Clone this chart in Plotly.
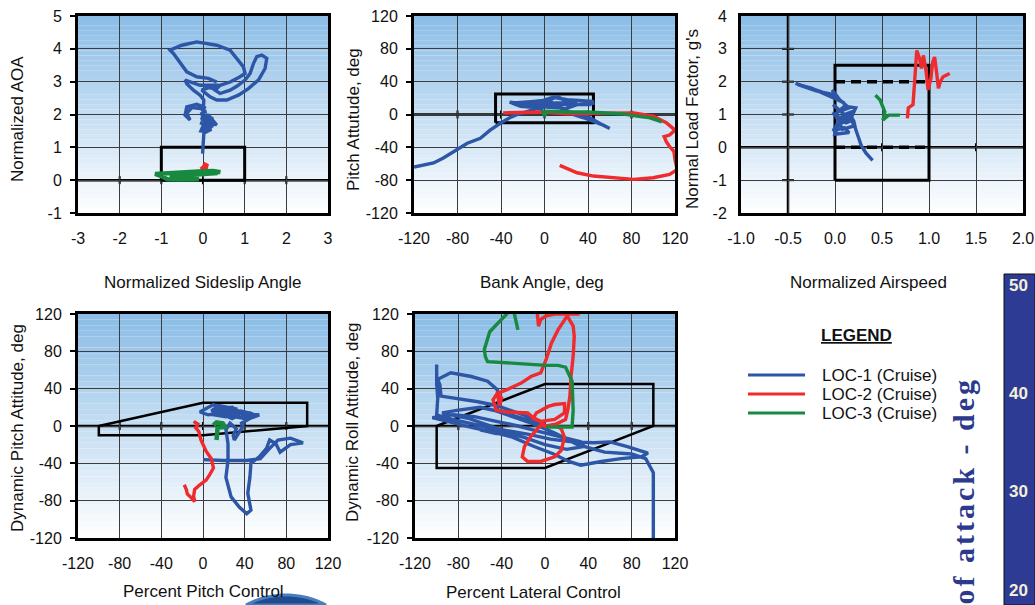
import math
import plotly.graph_objects as go

W, H = 1035, 605
FONT = "Liberation Sans, Arial, sans-serif"
BLUE, RED, GREEN = "#2D56A6", "#EF2B2D", "#178A3F"
GRID = "#3c3c3c"

# ---------------- Panel 1: Normalized AOA vs Normalized Sideslip ----------------
aoa_loc1 = [(-0.01,0.81),(0.01,1.22),(0.02,1.42),(0.05,1.45),(0.2,1.55),(0.0,1.6),(0.3,1.72),
            (0.1,1.78),(0.25,1.88),(-0.05,1.85),(0.12,2.0),(-0.05,1.5),(0.1,1.47),(-0.03,1.57),
            (0.13,1.64),(-0.07,1.75),(0.25,1.64),(0.07,1.83),(0.2,1.75),(0.33,1.68),(0.15,1.95),
            (0.05,1.7),(-0.03,2.03),(0.08,2.1),(-0.02,2.1),(0.05,2.25),(-0.07,2.18),(-0.27,2.21),
            (-0.39,2.03),(-0.31,1.83),(-0.43,1.98),(-0.39,2.23),(-0.15,2.31),(0.01,2.23),(0.02,2.44),
            (-0.07,2.59),(-0.23,2.74),(-0.39,2.94),(-0.43,3.05),(-0.27,2.99),(-0.07,2.89),(0.17,2.89),
            (0.37,2.89),(0.25,2.79),(0.13,2.82),(-0.03,2.74),(0.17,2.54),(0.33,2.44),(0.57,2.44),
            (0.85,2.59),(1.09,2.79),(1.33,3.05),(1.49,3.40),(1.53,3.71),(1.41,3.81),(1.29,3.76),
            (1.21,3.55),(1.13,3.25),(1.01,3.05),(0.81,2.86),(0.65,2.74),(0.41,2.64),(0.29,2.74),
            (0.41,2.89),(0.65,2.99),(0.89,3.15),(1.01,3.25),(0.97,3.45),(0.81,3.71),(0.65,3.96),
            (0.33,4.11),(-0.15,4.21),(-0.51,4.11),(-0.79,3.96),(-0.71,3.86),(-0.55,3.60),
            (-0.39,3.30),(-0.15,3.15),(0.13,3.10),(0.33,2.99)]
aoa_loc2 = [(0.0,0.5),(0.08,0.45),(0.05,0.3),(-0.05,0.22),(0.1,0.2),(0.02,0.35),(-0.04,0.42)]
aoa_loc3 = [(0.42,0.24),(0.25,0.28),(0.0,0.27),(-0.4,0.24),(-0.8,0.2),(-1.15,0.19),(-1.0,0.12),
            (-0.85,0.03),(-0.5,0.02),(-0.1,0.03),(-0.4,0.1),(-0.8,0.14),(-0.3,0.16),(0.1,0.2),(0.35,0.22)]
aoa_env_x = [-1, -1, 1, 1, -1]
aoa_env_y = [0, 1, 1, 0, 0]

# ---------------- Panel 2: Pitch Attitude vs Bank Angle ----------------
pitch_loc1 = [(-120,-64),(-102,-59),(-93,-53),(-81,-43),(-71,-35),(-59,-29),(-50,-19),(-41,-11),
              (-32,-4),(-25,0),(-15,4),(-5,8),(-22,10),(-32,15),(-16,13),(-4,16),(8,21),(21,18),
              (45,16),(42,12),(14,12),(2,10),(-10,8),(-1,6),(-28,14),(-10,16),(5,18),(12,22),
              (20,16),(30,14),(10,14),(-5,12),(-20,12),(0,10),(15,8),(-8,10),(5,16),(21,4),
              (39,-2),(51,-11),(60,-17),(54,-13),(36,-4),(15,5),(30,12),(46,14)]
pitch_loc2 = [(-38,2),(-20,2),(0,3),(20,1),(45,1),(66,1),(82,2),(100,-2),(112,-10),(120,-19),
              (115,-25),(110,-27),(112,-33),(115,-39),(119,-45),(120,-55),(122,-67),(115,-73),
              (100,-77),(82,-79),(63,-77),(45,-75),(30,-71),(14,-62)]
pitch_loc3 = [(-2,5),(0,-2),(2,4),(20,3),(40,3),(60,2),(70,1),(85,-2),(97,-4),(108,-9)]
pitch_env_x = [-45, -45, 45, 45, -45]
pitch_env_y = [-10, 25, 25, -10, -10]

# ---------------- Panel 3: Normal Load Factor vs Normalized Airspeed ----------------
load_loc1 = [(-0.42,1.95),(-0.3,1.85),(-0.15,1.7),(0.0,1.5),(0.1,1.35),(-0.05,1.55),(-0.25,1.8),
             (-0.4,1.92),(-0.2,1.72),(0.0,1.6),(-0.03,1.75),(0.05,1.45),(0.15,1.2),(0.05,1.1),
             (-0.02,1.3),(0.1,1.0),(0.2,1.1),(0.05,0.9),(-0.03,1.05),(0.12,0.75),(0.2,0.85),
             (0.02,0.7),(-0.02,0.5),(0.1,0.6),(0.15,0.45),(0.0,0.4),(0.05,0.8),(0.18,0.95),
             (0.22,1.2),(0.1,1.25),(0.0,1.0),(0.08,0.55),(0.2,0.65),(0.16,1.0),(0.2,0.8),
             (0.22,0.55),(0.25,0.3),(0.28,0.05),(0.33,-0.18),(0.4,-0.4)]
load_loc2 = [(0.77,0.88),(0.78,1.2),(0.83,1.3),(0.84,1.7),(0.86,2.2),(0.87,2.95),(0.9,2.7),
             (0.92,2.4),(0.94,2.8),(0.97,2.3),(0.99,1.75),(1.02,2.1),(1.04,2.6),(1.06,2.75),
             (1.08,2.3),(1.1,1.8),(1.12,2.0),(1.15,2.15),(1.22,2.25)]
load_loc3 = [(0.43,1.59),(0.48,1.44),(0.53,1.08),(0.51,0.83),(0.57,0.98),(0.69,0.98)]
load_env_x = [0, 0, 1, 1, 0]
load_env_y = [-1, 2.5, 2.5, -1, -1]
load_limit_x = [0, 1]
load_limit_upper = [2, 2]
load_limit_lower = [0, 0]

# ---------------- Panel 4: Dynamic Pitch Attitude vs Percent Pitch Control ----------------
dpitch_loc1 = [(0,-36),(20,-37),(42,-37),(55,-35),(64,-24),(72,-15),(84,-13),(96,-18),(84,-20),
               (74,-28),(70,-19),(64,-15),(61,-24),(54,-33),(46,-40),(45,-55),(43,-72),(46,-90),
               (42,-94),(35,-87),(27,-76),(22,-55),(24,-37),(24,-19),(22,-4),(26,3),(32,-3),
               (29,-10),(30,-15),(35,-6),(38,-1),(37,3),(45,8),(54,12),(42,12),(32,14),(22,10),
               (10,12),(13,17),(19,19),(10,23),(-3,15),(5,12),(15,14),(25,16),(35,12),(28,8),
               (18,13),(30,18),(40,10),(48,13),(36,16),(20,15),(12,20),(25,12),(15,18),(28,20),
               (35,15),(45,14),(50,10),(40,8),(30,10),(20,18),(8,16),(15,22),(33,18)]
dpitch_loc2 = [(-9,5),(-5,2),(-7,-2),(-4,-6),(-2,-15),(3,-27),(8,-35),(10,-45),(6,-53),(3,-58),
               (-3,-63),(-8,-68),(-9,-75),(-8,-81),(-12,-76),(-15,-73),(-16,-68),(-18,-63)]
dpitch_loc3 = [(10,1),(13,4),(19,3),(21,-1),(14,-2),(13,-15)]
dpitch_env_x = [-100, 0, 100, 100, 0, -100, -100]
dpitch_env_y = [0, 25, 25, 0, -10, -10, 0]

# ---------------- Panel 5: Dynamic Roll Attitude vs Percent Lateral Control ----------------
droll_loc1 = [(-100,66),(-100,45),(-99,30),(-100,12),(-92,9),(-75,4),(-55,-1),(-35,-5),(-15,-9),
              (5,-14),(25,-17),(45,-18),(60,-17),(76,-22),(95,-29),(89,-33),(70,-35),(52,-38),
              (33,-42),(22,-38),(8,-30),(-10,-22),(-30,-12),(-50,-6),(-70,-1),(-90,5),(-104,9),
              (-85,12),(-65,10),(-45,5),(-25,0),(-5,-6),(15,-12),(33,-17),(36,-22),(20,-25),
              (0,-20),(-20,-12),(-40,-6),(-60,-4),(-45,-8),(-31,-8),(-50,0),(-70,8),(-95,14),
              (-80,17),(-60,20),(-40,15),(-20,8),(0,2),(-20,12),(-45,22),(-62,26),(-84,30),
              (-96,32),(-97,44),(-99,50),(-87,57),(-68,53),(-53,48),(-44,39),(-42,24),(-45,16),
              (-30,10),(-10,2),(10,-8),(30,-20),(55,-28),(80,-30),(93,-35),(98,-47),(100,-50),
              (100,-90),(100,-125)]
droll_loc2_top = [(-7,124),(-7,119),(-6,107),(-4,114),(1,118),(9,120),(32,120)]
droll_loc2 = [(21,117),(26,107),(27,96),(26,75),(24,53),(23,32),(21,17),(19,7),(10,2),(1,0),
              (-4,1),(-13,-11),(-19,-22),(-21,-33),(-16,-38),(-4,-38),(9,-33),(15,-26),(18,-12),
              (15,-3),(9,1),(1,-1),(-4,5),(-11,8),(-8,14),(3,21),(9,23),(18,24),(18,14),(9,7),
              (-4,5),(-11,9),(-16,14),(-35,15),(-45,17),(-48,28),(-44,35),(-40,30),(-42,22),
              (-44,35),(-35,39),(-22,46),(-13,53),(-4,57),(1,71),(6,89),(12,103),(20,118),(24,124)]
droll_loc3 = [(-25,103),(-27,114),(-29,124),(-33,124),(-34.5,121),(-51,101),(-56,82),(-55,74),
              (-53,69),(1,65),(12,65),(19,63),(25,48),(26,17),(25,-1),(12,-1),(1,-1)]
droll_env_x = [-100, 0, 100, 100, 0, -100, -100]
droll_env_y = [0, 45, 45, 0, -45, -45, 0]

legend_names = ["LOC-1 (Cruise)", "LOC-2 (Cruise)", "LOC-3 (Cruise)"]
aoa_side_labels = [50, 40, 30, 20]

# ---------------- helpers ----------------
def px_x(p):
    return p / W

def px_y(p):
    return 1 - p / H

def fmt(vals, f="{:g}"):
    return [f.format(v) for v in vals]

t120 = [-120, -80, -40, 0, 40, 80, 120]
panels = [
    dict(px=(78, 328), py=(16, 213), xr=[-3, 3], yr=[-1, 5],
         xt=[-3, -2, -1, 0, 1, 2, 3], xf="{:g}", yt=[-1, 0, 1, 2, 3, 4, 5], yticks=True,
         xcross=[-2, -1, 0, 1, 2]),
    dict(px=(414, 675), py=(16, 213), xr=[-120, 120], yr=[-120, 120],
         xt=t120, xf="{:g}", yt=t120, yticks=True, xcross=[-80, -40, 0, 40, 80]),
    dict(px=(741, 1023), py=(16, 213), xr=[-1, 2], yr=[-2, 4],
         xt=[-1, -0.5, 0, 0.5, 1, 1.5, 2], xf="{:.1f}", yt=[-2, -1, 0, 1, 2, 3, 4], yticks=False,
         xcross=[0, 0.5, 1, 1.5]),
    dict(px=(78, 328), py=(314, 538), xr=[-120, 120], yr=[-120, 120],
         xt=t120, xf="{:g}", yt=t120, yticks=True, xcross=[-80, -40, 0, 40, 80]),
    dict(px=(415, 675), py=(314, 538), xr=[-120, 120], yr=[-120, 120],
         xt=t120, xf="{:g}", yt=t120, yticks=True, xcross=[-80, -40, 0, 40, 80]),
]

fig = go.Figure()
layout = {}
shapes = []
TOP = (138, 188, 230)
NB = 40
for i, p in enumerate(panels, 1):
    s = "" if i == 1 else str(i)
    layout["xaxis" + s] = dict(
        domain=[px_x(p["px"][0]), px_x(p["px"][1])], range=p["xr"], anchor="y" + s,
        tickmode="array", tickvals=p["xt"], ticktext=fmt(p["xt"], p["xf"]),
        showgrid=True, gridcolor=GRID, gridwidth=1, zeroline=False, automargin=False,
        showline=True, mirror=True, linecolor="black", linewidth=3,
        ticks="", ticklabelstandoff=9,
        tickfont=dict(family=FONT, size=16, color="#111"), fixedrange=True)
    layout["yaxis" + s] = dict(
        domain=[px_y(p["py"][1]), px_y(p["py"][0])], range=p["yr"], anchor="x" + s,
        tickmode="array", tickvals=p["yt"], ticktext=fmt(p["yt"]),
        showgrid=True, gridcolor=GRID, gridwidth=1, zeroline=False, automargin=False,
        showline=True, mirror=True, linecolor="black", linewidth=3,
        ticks="outside" if p["yticks"] else "", ticklen=5, tickwidth=2, tickcolor="black",
        ticklabelstandoff=5 if p["yticks"] else 8,
        tickfont=dict(family=FONT, size=16, color="#111"), fixedrange=True)
    for k in range(NB):
        f = (k + 0.5) / NB
        c = tuple(int(round(255 - (255 - TOP[j]) * f)) for j in range(3))
        shapes.append(dict(type="rect", xref="x" + s + " domain", yref="y" + s + " domain",
                           x0=0, x1=1, y0=k / NB, y1=(k + 1) / NB, layer="below",
                           fillcolor="rgb(%d,%d,%d)" % c, line=dict(width=0)))
    shapes.append(dict(type="line", xref="x" + s + " domain", yref="y" + s, x0=0, x1=1, y0=0, y1=0,
                       layer="below", line=dict(color="black", width=2.5)))
    for v in p["xcross"]:
        shapes.append(dict(type="line", xref="x" + s, yref="y" + s, ysizemode="pixel", yanchor=0,
                           x0=v, x1=v, y0=-4, y1=4, layer="below", line=dict(color="black", width=2)))

shapes.append(dict(type="line", xref="x3", yref="y3 domain", x0=-0.5, x1=-0.5, y0=0, y1=1,
                   layer="below", line=dict(color="black", width=2.5)))
for v in [-1, 1, 2, 3]:
    shapes.append(dict(type="line", xref="x3", yref="y3", xsizemode="pixel", xanchor=-0.5,
                       x0=-6, x1=6, y0=v, y1=v, layer="below", line=dict(color="black", width=2)))


def add(pts, ax, color, width=3.4, dash=None):
    s = "" if ax == 1 else str(ax)
    fig.add_trace(go.Scatter(x=[q[0] for q in pts], y=[q[1] for q in pts], xaxis="x" + s,
                             yaxis="y" + s, mode="lines", showlegend=False, hoverinfo="skip",
                             line=dict(color=color, width=width, dash=dash)))


def add_xy(xs, ys, ax, color, width=3, dash=None):
    add(list(zip(xs, ys)), ax, color, width, dash)

add_xy(aoa_env_x, aoa_env_y, 1, "black", 3)
add_xy(pitch_env_x, pitch_env_y, 2, "black", 3)
add_xy(load_env_x, load_env_y, 3, "black", 3)
add_xy(load_limit_x, load_limit_upper, 3, "black", 3.5, "10px,6px")
add_xy(load_limit_x, load_limit_lower, 3, "black", 3.5, "10px,6px")
add_xy(dpitch_env_x, dpitch_env_y, 4, "black", 2.5)
add_xy(droll_env_x, droll_env_y, 5, "black", 2.5)

add(aoa_loc1, 1, BLUE); add(aoa_loc2, 1, RED, 4.5); add(aoa_loc3, 1, GREEN, 4.5)
add(pitch_loc1, 2, BLUE); add(pitch_loc2, 2, RED); add(pitch_loc3, 2, GREEN)
add(load_loc1, 3, BLUE); add(load_loc2, 3, RED); add(load_loc3, 3, GREEN)
add(dpitch_loc1, 4, BLUE); add(dpitch_loc2, 4, RED); add(dpitch_loc3, 4, GREEN, 4.5)
add(droll_loc1, 5, BLUE); add(droll_loc2, 5, RED); add(droll_loc2_top, 5, RED); add(droll_loc3, 5, GREEN)

ann = []


def text(t, x, y, angle=0, size=17, **kw):
    d = dict(text=t, x=px_x(x), y=px_y(y), xref="paper", yref="paper", showarrow=False,
             textangle=angle, font=dict(family=FONT, size=size, color="#111"),
             xanchor="center", yanchor="middle")
    d.update(kw)
    ann.append(d)

text("Normalized Sideslip Angle", 203, 282)
text("Bank Angle, deg", 542, 282)
text("Normalized Airspeed", 788, 282, xanchor="left")
text("Percent Pitch Control", 203, 591)
text("Percent Lateral Control", 533, 592)
text("Normalized AOA", 17, 119, -90)
text("Pitch Attutude, deg", 353, 120, -90)
text("Normal Load Factor, g's", 692, 119, -90)
text("Dynamic Pitch Attitude, deg", 17, 428, -90)
text("Dynamic Roll Attitude, deg", 352, 423, -90)

ann.append(dict(text="<b>LEGEND</b>", x=px_x(856), y=px_y(335), xref="paper", yref="paper",
                showarrow=False, xanchor="center", yanchor="middle",
                font=dict(family=FONT, size=17, color="#111", lineposition="under")))
for name, col, yy in zip(legend_names, [BLUE, RED, GREEN], [375, 394, 413]):
    shapes.append(dict(type="line", xref="paper", yref="paper", x0=px_x(748), x1=px_x(805),
                       y0=px_y(yy), y1=px_y(yy), line=dict(color=col, width=3)))
    text(name, 820, yy, xanchor="left")

# fragments of the neighbouring figures (kept inside the page)
shapes.append(dict(type="rect", xref="paper", yref="paper", x0=px_x(1004), x1=1,
                   y0=0, y1=px_y(274), fillcolor="#2E3B95", line=dict(color="#111", width=1)))
for v, yy in zip(aoa_side_labels, [285, 393, 491, 590]):
    ann.append(dict(text="<b>%d</b>" % v, x=px_x(1007), y=px_y(yy), xref="paper", yref="paper",
                    showarrow=False, xanchor="left", yanchor="middle",
                    font=dict(family="Liberation Sans Narrow, Liberation Sans", size=17, color="#F3EFD6")))
ann.append(dict(text="<b><span style='letter-spacing:3px'>of attack - deg</span></b>",
                x=px_x(963), y=px_y(376), xref="paper",
                yref="paper", showarrow=False, textangle=-90, xanchor="center", yanchor="top",
                font=dict(family="Liberation Serif, serif", size=30, color="#2B3A8C")))
cx, cy, r = 286, 680, 85
half = math.sqrt(r * r - (cy - H) ** 2)
a0 = math.atan2(cy - H, -half)
a1 = math.atan2(cy - H, half)
arc = []
for k in range(41):
    a = a0 + (a1 - a0) * k / 40
    arc.append((px_x(cx + r * math.cos(a)), px_y(cy - r * math.sin(a))))
path = "M " + " L ".join("%.5f,%.5f" % q for q in arc) + " Z"
shapes.append(dict(type="path", xref="paper", yref="paper", path=path,
                   fillcolor="#1F4C8E", line=dict(color="#4A7DBF", width=3)))

layout.update(dict(width=W, height=H, autosize=False,
                   margin=dict(l=0, r=0, t=0, b=0, pad=0, autoexpand=False),
                   paper_bgcolor="white", plot_bgcolor="white", shapes=shapes, annotations=ann,
                   font=dict(family=FONT, color="#111")))
fig.update_layout(**layout)
fig.write_html("out.html", config={"displayModeBar": False},
               post_script="document.body.style.margin='0';document.body.style.overflow='hidden';")
